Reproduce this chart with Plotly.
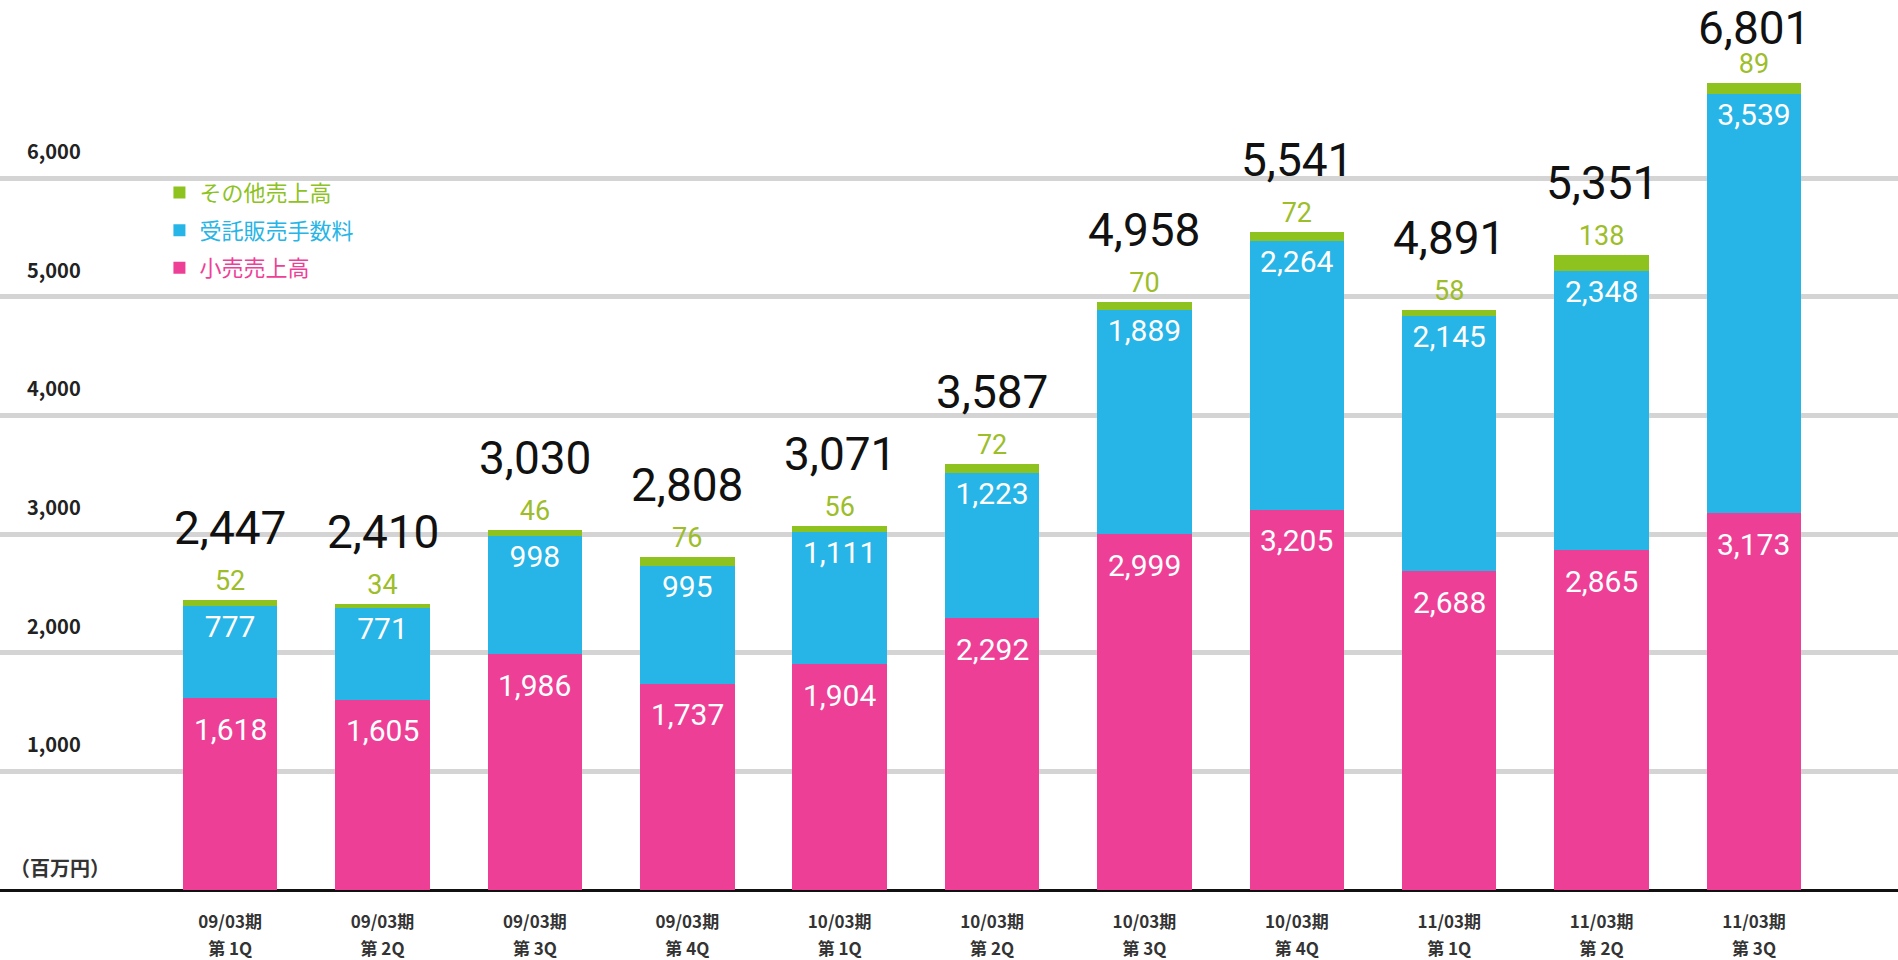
import plotly.graph_objects as go

# ---- data ----
categories = ["09/03期 第1Q", "09/03期 第2Q", "09/03期 第3Q", "09/03期 第4Q",
              "10/03期 第1Q", "10/03期 第2Q", "10/03期 第3Q", "10/03期 第4Q",
              "11/03期 第1Q", "11/03期 第2Q", "11/03期 第3Q"]
period_labels = ["09/03期", "09/03期", "09/03期", "09/03期",
                 "10/03期", "10/03期", "10/03期", "10/03期",
                 "11/03期", "11/03期", "11/03期"]
quarter_labels = ["第 1Q", "第 2Q", "第 3Q", "第 4Q",
                  "第 1Q", "第 2Q", "第 3Q", "第 4Q",
                  "第 1Q", "第 2Q", "第 3Q"]
retail = [1618, 1605, 1986, 1737, 1904, 2292, 2999, 3205, 2688, 2865, 3173]
consign = [777, 771, 998, 995, 1111, 1223, 1889, 2264, 2145, 2348, 3539]
other = [52, 34, 46, 76, 56, 72, 70, 72, 58, 138, 89]
totals = [2447, 2410, 3030, 2808, 3071, 3587, 4958, 5541, 4891, 5351, 6801]
y_ticks = [1000, 2000, 3000, 4000, 5000, 6000]
y_tick_text = ["1,000", "2,000", "3,000", "4,000", "5,000", "6,000"]

PINK = "#ee3f97"
BLUE = "#27b4e6"
GREEN = "#8dc21f"
GREEN_TXT = "#9dbd2b"

NUMFONT = "Roboto, 'DejaVu Sans', sans-serif"
JPFONT = "'Noto Sans CJK JP', sans-serif"

W, H = 1898, 960
MT, MB = 0, 70
PLOT_H = H - MT - MB
YMAX = 7500
BAR_W = 0.62


def fmt(v):
    return f"{v:,}"


fig = go.Figure()
fig.add_trace(go.Bar(
    x=categories, y=retail, name=f"<span style='color:{PINK}'>小売売上高</span>",
    marker=dict(color=PINK, line=dict(width=0)), width=BAR_W,
    legendgroup="c", legendrank=3, hoverinfo="y",
))
fig.add_trace(go.Bar(
    x=categories, y=consign, name=f"<span style='color:{BLUE}'>受託販売手数料</span>",
    marker=dict(color=BLUE, line=dict(width=0)), width=BAR_W,
    text=[fmt(v) for v in consign], textposition="inside", insidetextanchor="end",
    constraintext="none", textfont=dict(family=NUMFONT, size=30, color="white"),
    legendgroup="b", legendrank=2,
))
fig.add_trace(go.Bar(
    x=categories, y=other, name=f"<span style='color:{GREEN}'>その他売上高</span>",
    marker=dict(color=GREEN, line=dict(width=0)), width=BAR_W,
    text=[fmt(v) for v in other], textposition="outside", cliponaxis=False,
    constraintext="none", textfont=dict(family=NUMFONT, size=27, color=GREEN_TXT),
    legendgroup="a", legendrank=1,
))
# invisible helper trace so the second (quarter) label row axis is drawn
fig.add_trace(go.Scatter(
    x=list(range(len(categories))), y=totals, xaxis="x2", mode="markers",
    marker=dict(opacity=0, size=1), showlegend=False, hoverinfo="skip",
))

annotations = []
# retail values (inside the pink segment, near its top)
for c, v in zip(categories, retail):
    annotations.append(dict(
        x=c, y=v, xref="x", yref="y", text=fmt(v), showarrow=False,
        yanchor="middle", yshift=-31,
        font=dict(family=NUMFONT, size=30, color="white"),
    ))
# totals above each bar; keep the tallest label inside the picture
for c, t in zip(categories, totals):
    top_px = MT + PLOT_H * (1 - t / YMAX)
    shift = min(72, top_px - 28)
    annotations.append(dict(
        x=c, y=t, xref="x", yref="y", text=fmt(t), showarrow=False,
        yanchor="middle", yshift=shift,
        font=dict(family=NUMFONT, size=46, color="#111111"),
    ))
annotations.append(dict(
    x=0.004, y=0.025, xref="paper", yref="paper", text="（百万円）", showarrow=False,
    xanchor="left", yanchor="middle",
    font=dict(family=JPFONT, size=20, color="#333333", weight="bold"),
))

xr = [-1.51, 10.945]
tickfont_x = dict(family=JPFONT, size=17, color="#333333", weight="bold")
fig.update_layout(
    width=W, height=H,
    margin=dict(l=0, r=0, t=MT, b=MB, autoexpand=False),
    paper_bgcolor="white", plot_bgcolor="white",
    barmode="stack",
    showlegend=True,
    legend=dict(x=0.084, y=0.807, xanchor="left", yanchor="top",
                traceorder="grouped", tracegroupgap=6,
                font=dict(family=JPFONT, size=22),
                bgcolor="rgba(0,0,0,0)"),
    annotations=annotations,
    xaxis=dict(type="category", range=xr, tickmode="array",
               tickvals=categories, ticktext=period_labels,
               showgrid=False, zeroline=False, showline=False, ticks="",
               ticklabelstandoff=20, automargin=False,
               tickfont=tickfont_x),
    xaxis2=dict(type="linear", overlaying="x", anchor="y", side="bottom",
                range=xr, tickmode="array",
                tickvals=list(range(len(quarter_labels))), ticktext=quarter_labels,
                showgrid=False, zeroline=False, showline=False, ticks="",
                ticklabelstandoff=47, automargin=False,
                tickfont=tickfont_x),
    yaxis=dict(range=[0, YMAX], tickmode="array", tickvals=y_ticks, ticktext=y_tick_text,
               ticklabelposition="inside", ticklabelstandoff=24, ticklabelshift=-26,
               showgrid=True, gridcolor="#d4d4d4", gridwidth=5,
               zeroline=True, zerolinecolor="#111111", zerolinewidth=3,
               showline=False, ticks="", automargin=False,
               tickfont=dict(family=JPFONT, size=20, color="#222222", weight="bold")),
)

fig.write_html(
    "out.html",
    config={"displayModeBar": False},
    post_script="document.body.style.margin='0';document.body.style.overflow='hidden';",
)
